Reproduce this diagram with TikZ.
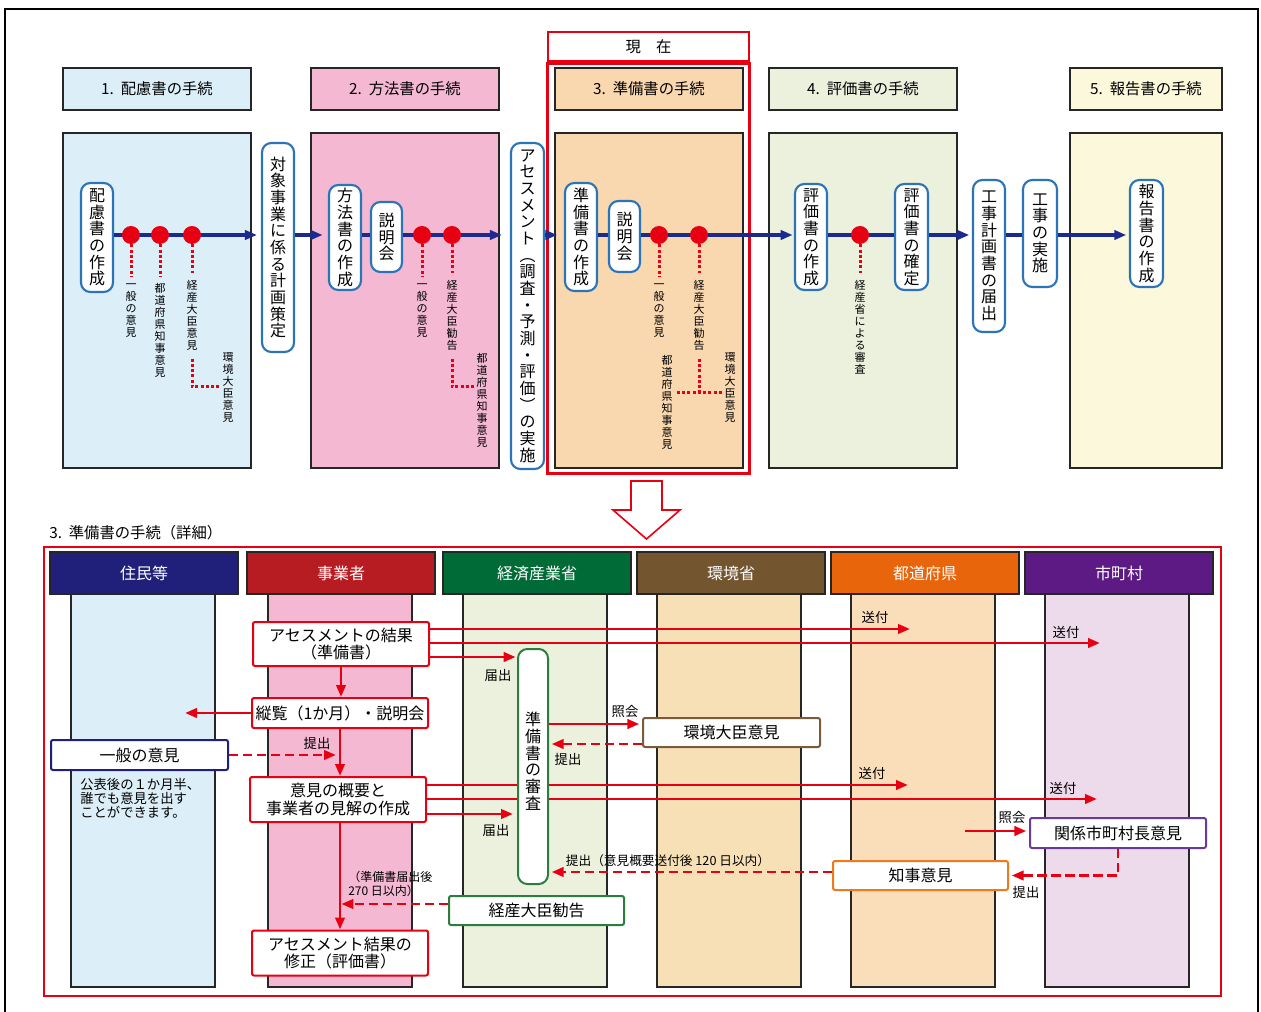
\documentclass[tikz,border=0pt]{standalone}
\usepackage{fontspec}
\setmainfont{Noto Sans CJK JP}
\usetikzlibrary{arrows.meta}
\definecolor{pblue}{HTML}{DCEEF8}
\definecolor{ppink}{HTML}{F4B8D3}
\definecolor{ppeach}{HTML}{F9D8B0}
\definecolor{pgreen}{HTML}{EBF1DD}
\definecolor{pyellow}{HTML}{FBF8DC}
\definecolor{bblue}{HTML}{2B74B8}
\definecolor{navyline}{HTML}{1B2A8C}
\definecolor{rred}{HTML}{E60012}
\definecolor{hnavy}{HTML}{20207A}
\definecolor{hred}{HTML}{B71C23}
\definecolor{hgreen}{HTML}{006B36}
\definecolor{hbrown}{HTML}{735530}
\definecolor{horange}{HTML}{E8650B}
\definecolor{hpurple}{HTML}{5D1A85}
\definecolor{lblue}{HTML}{DCEEF7}
\definecolor{lpink}{HTML}{F4B8D3}
\definecolor{lgreen}{HTML}{EBF1DC}
\definecolor{lwheat}{HTML}{F8E0B6}
\definecolor{lorange}{HTML}{FADDB9}
\definecolor{lpurple}{HTML}{EDDAEA}
\definecolor{gbox}{HTML}{2E7D40}
\definecolor{brbox}{HTML}{7A5C3A}
\definecolor{obox}{HTML}{EE7A1E}
\definecolor{pubox}{HTML}{6A3A9A}
\makeatletter
\newcommand\vstk[1]{\vstk@a#1\@nil}
\def\vstk@a#1{#1\vstk@b}
\def\vstk@b#1{\ifx\@nil#1\expandafter\@gobble\else\expandafter\@firstofone\fi{\\#1\vstk@b}}
\makeatother
\tikzset{
  sz/.style 2 args={minimum width=#1*0.75pt, minimum height=#2*0.75pt},
  hdr/.style={draw=black!85, line width=1.5pt, inner sep=0pt, font=\fontsize{11.5}{13}\selectfont},
  panel/.style={draw=black!85, line width=1.5pt, inner sep=0pt},
  vbox/.style={draw=bblue, line width=1.6pt, fill=white, rounded corners=7pt, inner sep=0pt, align=center, font=\fontsize{12}{12.5}\selectfont},
  vlab/.style={inner sep=0pt, align=center, anchor=north, font=\fontsize{8.25}{9}\selectfont},
  bline/.style={draw=navyline, line width=2.3pt},
  barrow/.style={bline, -{Triangle[length=9pt,width=7pt]}},
  rdot/.style={circle, fill=rred, inner sep=0pt, minimum size=13.5pt},
  rdotted/.style={draw=rred, line width=2.25pt, dash pattern=on 2.25pt off 1.7pt},
  rline/.style={draw=rred, line width=2.2pt},
  rarrow/.style={rline, -{Triangle[length=9pt,width=7pt]}},
  rdash/.style={rarrow, dash pattern=on 7pt off 3.5pt},
  lhdr/.style={draw=black!85, line width=1.5pt, text=white, inner sep=0pt, font=\fontsize{12}{13}\selectfont},
  lbody/.style={draw=black!85, line width=1.5pt, inner sep=0pt},
  wbox/.style={fill=white, line width=1.5pt, inner sep=0pt, align=center, rounded corners=1.5pt, font=\fontsize{12}{13}\selectfont},
  slab/.style={inner sep=0pt, font=\fontsize{10}{11}\selectfont},
}
\begin{document}
\begin{tikzpicture}[x=0.75pt,y=-0.75pt]
\useasboundingbox (0,0) rectangle (1261,1012);
\fill[white] (0,0) rectangle (1261,1012);
\draw[line width=1.5pt] (5,1016) -- (5,9) -- (1258,9) -- (1258,1016);

% ---------- top: headers ----------
\node[hdr, fill=pblue, sz={188}{42}] (h1) at (157,89) {1.\ \ 配慮書の手続};
\node[hdr, fill=ppink, sz={188}{42}] (h2) at (405,89) {2.\ \ 方法書の手続};
\node[hdr, fill=ppeach, sz={188}{42}] (h3) at (649,89) {3.\ \ 準備書の手続};
\node[hdr, fill=pgreen, sz={188}{42}] (h4) at (863,89) {4.\ \ 評価書の手続};
\node[hdr, fill=pyellow, sz={152}{42}] (h5) at (1146,89) {5.\ \ 報告書の手続};
\node[draw=rred, line width=1.5pt, fill=white, inner sep=0pt, sz={201}{29}, font=\fontsize{11.5}{13}\selectfont] (now) at (648.5,46.5) {現　在};

% ---------- top: panels ----------
\node[panel, fill=pblue, sz={188}{335}] (p1) at (157,300.5) {};
\node[panel, fill=ppink, sz={188}{335}] (p2) at (405,300.5) {};
\node[panel, fill=ppeach, sz={188}{335}] (p3) at (649,300.5) {};
\node[panel, fill=pgreen, sz={188}{335}] (p4) at (863,300.5) {};
\node[panel, fill=pyellow, sz={152}{335}] (p5) at (1146,300.5) {};
\node[draw=rred, line width=1.8pt, inner sep=0pt, sz={202}{410}] (nowframe) at (648.5,268.5) {};

% ---------- top: vertical boxes ----------
\node[vbox, sz={32}{109}] (b1) at (97,237.5) {\vstk{配慮書の作成}};
\node[vbox, sz={32}{209}] (b2) at (278,247.5) {\vstk{対象事業に係る計画策定}};
\node[vbox, sz={32}{105}] (b3) at (345,237.5) {\vstk{方法書の作成}};
\node[vbox, sz={31}{70}] (b4) at (386.5,237) {\vstk{説明会}};
\node[vbox, sz={33}{326}] (b5) at (527.5,306) {\vstk{アセスメント︵調査・予測・評価︶の実施}};
\node[vbox, sz={32}{108}] (b6) at (581,237) {\vstk{準備書の作成}};
\node[vbox, sz={31}{71}] (b7) at (624.5,236.5) {\vstk{説明会}};
\node[vbox, sz={32}{106}] (b8) at (811,237) {\vstk{評価書の作成}};
\node[vbox, sz={33}{106}] (b9) at (911.5,237) {\vstk{評価書の確定}};
\node[vbox, sz={32}{152}] (b10) at (989,256) {\vstk{工事計画書の届出}};
\node[vbox, sz={34}{107}] (b11) at (1040,233.5) {\vstk{工事の実施}};
\node[vbox, sz={33}{107}] (b12) at (1146.5,233.5) {\vstk{報告書の作成}};

% ---------- top: blue flow ----------
\coordinate (L) at (0,235);
\draw[barrow, shorten >=3pt] (b1.east |- L) -- (b2.west |- L);
\draw[barrow, shorten >=4pt] (b2.east |- L) -- (b3.west |- L);
\draw[bline] (b3.east |- L) -- (b4.west |- L);
\draw[barrow, shorten >=6pt] (b4.east |- L) -- (b5.west |- L);
\draw[barrow, shorten >=5pt] (b5.east |- L) -- (b6.west |- L);
\draw[bline] (b6.east |- L) -- (b7.west |- L);
\draw[barrow, shorten >=1pt] (b7.east |- L) -- (b8.west |- L);
\draw[bline] (b8.east |- L) -- (b9.west |- L);
\draw[barrow, shorten >=2pt] (b9.east |- L) -- (b10.west |- L);
\draw[bline] (b10.east |- L) -- (b11.west |- L);
\draw[barrow, shorten >=2pt] (b11.east |- L) -- (b12.west |- L);

% ---------- top: dots ----------
\node[rdot] (d11) at (131,235) {};
\node[rdot] (d12) at (160,235) {};
\node[rdot] (d13) at (192,235) {};
\node[rdot] (d21) at (422,235) {};
\node[rdot] (d22) at (452,235) {};
\node[rdot] (d31) at (659,235) {};
\node[rdot] (d32) at (699,235) {};
\node[rdot] (d41) at (860,235) {};

% ---------- top: small vertical labels ----------
\node[vlab] (l11) at (131,283) {\vstk{一般の意見}};
\node[vlab] (l12) at (160,283) {\vstk{都道府県知事意見}};
\node[vlab] (l13) at (192,280) {\vstk{経産大臣意見}};
\node[vlab] (l14) at (228,352) {\vstk{環境大臣意見}};
\node[vlab] (l21) at (422,283) {\vstk{一般の意見}};
\node[vlab] (l22) at (452,280) {\vstk{経産大臣勧告}};
\node[vlab] (l23) at (482,353) {\vstk{都道府県知事意見}};
\node[vlab] (l31) at (659,283) {\vstk{一般の意見}};
\node[vlab] (l32) at (699,280) {\vstk{経産大臣勧告}};
\node[vlab] (l33) at (667,355) {\vstk{都道府県知事意見}};
\node[vlab] (l34) at (730,352) {\vstk{環境大臣意見}};
\node[vlab] (l41) at (860,280) {\vstk{経産省による審査}};

\draw[rdotted, shorten >=5pt] (d11.south) -- (l11.north);
\draw[rdotted, shorten >=5pt] (d12.south) -- (l12.north);
\draw[rdotted, shorten >=5pt] (d13.south) -- (l13.north);
\draw[rdotted, shorten >=5pt] (d21.south) -- (l21.north);
\draw[rdotted, shorten >=5pt] (d22.south) -- (l22.north);
\draw[rdotted, shorten >=5pt] (d31.south) -- (l31.north);
\draw[rdotted, shorten >=5pt] (d32.south) -- (l32.north);
\draw[rdotted, shorten >=5pt] (d41.south) -- (l41.north);
\coordinate (c14) at (219,387);
\draw[rdotted, shorten <=6pt] (l13.south) |- (c14);
\coordinate (c23) at (476,387);
\draw[rdotted, shorten <=6pt] (l22.south) |- (c23);
\coordinate (c3) at (699,393);
\draw[rdotted, shorten <=6pt] (l32.south) -- (c3);
\draw[rdotted, shorten <=3pt, shorten >=2pt] (l33.east |- c3) -- (l34.west |- c3);

% ---------- hollow down arrow ----------
\draw[draw=rred, line width=1.2pt, fill=white] (631,481) -- (662,481) -- (662,510) -- (680,510) -- (646.5,539) -- (613,510) -- (631,510) -- cycle;

% ---------- bottom ----------
\node[anchor=west, inner sep=0pt, font=\fontsize{11.5}{13}\selectfont] (ttl) at (49,533) {3.\ \ 準備書の手続（詳細）};
\node[draw=rred, line width=1.2pt, inner sep=0pt, sz={1177}{449}] (bframe) at (632.5,771.5) {};

\node[lbody, fill=lblue, sz={144}{393}] (B1) at (143,790.5) {};
\node[lbody, fill=lpink, sz={144}{393}] (B2) at (340,790.5) {};
\node[lbody, fill=lgreen, sz={144}{393}] (B3) at (535,790.5) {};
\node[lbody, fill=lwheat, sz={144}{393}] (B4) at (729,790.5) {};
\node[lbody, fill=lorange, sz={144}{393}] (B5) at (923,790.5) {};
\node[lbody, fill=lpurple, sz={144}{393}] (B6) at (1117,790.5) {};

\node[lhdr, fill=hnavy, sz={188}{42}] (H1) at (144,573) {住民等};
\node[lhdr, fill=hred, sz={188}{42}] (H2) at (341,573) {事業者};
\node[lhdr, fill=hgreen, sz={188}{42}] (H3) at (537,573) {経済産業省};
\node[lhdr, fill=hbrown, sz={188}{42}] (H4) at (731,573) {環境省};
\node[lhdr, fill=horange, sz={188}{42}] (H5) at (925,573) {都道府県};
\node[lhdr, fill=hpurple, sz={188}{42}] (H6) at (1119,573) {市町村};

% boxes
\node[wbox, draw=rred, sz={176}{44}] (r1) at (341,644) {アセスメントの結果\\（準備書）};
\node[wbox, draw=rred, sz={176}{30}] (r2) at (340,713) {縦覧（1か月）・説明会};
\node[wbox, draw=rred, sz={176}{45}] (r3) at (338,799.5) {意見の概要と\\事業者の見解の作成};
\node[wbox, draw=rred, sz={176}{45}] (r4) at (340,953) {アセスメント結果の\\修正（評価書）};
\node[wbox, draw=hnavy, sz={177}{30}] (g1) at (139.5,755) {一般の意見};
\node[wbox, draw=brbox, sz={177}{29}] (e1) at (731.5,732.5) {環境大臣意見};
\node[wbox, draw=gbox, sz={175}{29}] (k1) at (536.5,910.5) {経産大臣勧告};
\node[wbox, draw=pubox, sz={176}{30}] (m1) at (1118,833) {関係市町村長意見};
\node[wbox, draw=obox, sz={175}{29}] (c1) at (920.5,875.5) {知事意見};
\node[wbox, draw=gbox, rounded corners=7pt, sz={30}{235}, font=\fontsize{12}{12.5}\selectfont] (s1) at (533,766.5) {\vstk{準備書の審査}\\[-4pt]};

\node[anchor=north west, inner sep=0pt, align=left, font=\fontsize{10}{10.5}\selectfont] (note) at (80,778) {公表後の１か月半、\\誰でも意見を出す\\ことができます。};

% arrows
\coordinate (t1) at (910,629);
\draw[rarrow] (r1.east |- t1) -- (t1);
\coordinate (t2) at (1100,643);
\draw[rarrow] (r1.east |- t2) -- (t2);
\coordinate (y657) at (0,657);
\draw[rarrow, shorten >=1pt] (r1.east |- y657) -- (s1.west |- y657);
\draw[rarrow] (r1.south) -- (r1.south |- r2.north);
\coordinate (t0) at (185,713);
\draw[rarrow] (r2.west) -- (t0);
\draw[rarrow] (r2.south) -- (r2.south |- r3.north);
\draw[rdash, shorten >=3pt] (g1.east) -- (r2.south |- g1.east);
\coordinate (t3) at (908,785);
\draw[rline] (r3.east |- t3) -- (s1.west |- t3);
\draw[rarrow] (s1.east |- t3) -- (t3);
\coordinate (t4) at (1097,799);
\draw[rline] (r3.east |- t4) -- (s1.west |- t4);
\draw[rarrow] (s1.east |- t4) -- (t4);
\coordinate (y814) at (0,814);
\draw[rarrow, shorten >=3pt] (r3.east |- y814) -- (s1.west |- y814);
\draw[rarrow] (r4.north |- r3.south) -- (r4.north);
\coordinate (y904) at (0,904);
\draw[rdash, shorten >=1pt] (k1.west |- y904) -- (r4.north |- y904);
\coordinate (y724) at (0,724);
\draw[rarrow, shorten >=2pt] (s1.east |- y724) -- (e1.west |- y724);
\coordinate (y744) at (0,744);
\draw[rdash, shorten >=2pt] (e1.west |- y744) -- (s1.east |- y744);
\coordinate (y872) at (0,872);
\draw[rdash, shorten >=2pt] (c1.west |- y872) -- (s1.east |- y872);
\coordinate (t5) at (965,831);
\draw[rarrow, shorten >=2pt] (t5) -- (m1.west |- t5);
\draw[rdash, shorten >=2pt] (m1.south) |- (c1.east);

% labels
\node[slab] (n1) at (875,617) {送付};
\node[slab] (n2) at (1066,632) {送付};
\node[slab] (n3) at (498,675) {届出};
\node[slab] (n4) at (317,743) {提出};
\node[slab] (n5) at (625,711) {照会};
\node[slab] (n6) at (568,759) {提出};
\node[slab] (n7) at (872,773) {送付};
\node[slab] (n8) at (1063,788) {送付};
\node[slab] (n9) at (496,830) {届出};
\node[slab] (n10) at (1012,817) {照会};
\node[slab] (n11) at (668,861) {\fontsize{9.5}{11}\selectfont 提出（意見概要送付後 120 日以内）};
\node[slab] (n12) at (1026,892) {提出};
\node[slab, anchor=north west, align=left, font=\fontsize{9}{10.5}\selectfont] (n13) at (348,871) {（準備書届出後\\270 日以内）};
\end{tikzpicture}
\end{document}
